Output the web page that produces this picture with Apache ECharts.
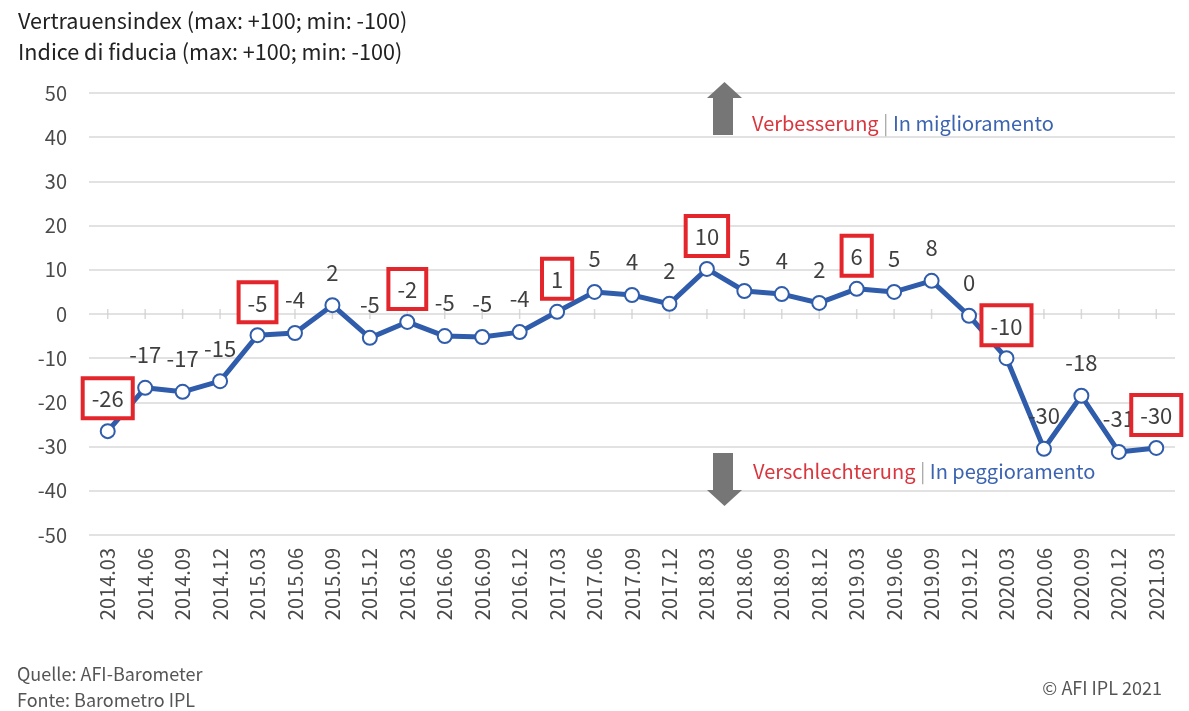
<!DOCTYPE html>
<html>
<head>
<meta charset="utf-8">
<script src="https://cdn.jsdelivr.net/npm/echarts@6/dist/echarts.min.js"></script>
<style>
html,body{margin:0;padding:0;background:#fff;}
#chart{width:1189px;height:711px;}
</style>
</head>
<body>
<div id="chart"></div>
<script>
const categories = ["2014.03","2014.06","2014.09","2014.12","2015.03","2015.06","2015.09","2015.12","2016.03","2016.06","2016.09","2016.12","2017.03","2017.06","2017.09","2017.12","2018.03","2018.06","2018.09","2018.12","2019.03","2019.06","2019.09","2019.12","2020.03","2020.06","2020.09","2020.12","2021.03"];
const indexValues = [-26.5,-16.7,-17.6,-15.2,-4.8,-4.3,2.0,-5.4,-1.8,-5.0,-5.2,-4.1,0.5,5.0,4.3,2.3,10.2,5.2,4.5,2.5,5.7,5.0,7.5,-0.4,-10.0,-30.5,-18.5,-31.2,-30.3];
const valueLabels = [-26,-17,-17,-15,-5,-4,2,-5,-2,-5,-5,-4,1,5,4,2,10,5,4,2,6,5,8,0,-10,-30,-18,-31,-30];
const boxedCategories = ["2014.03","2015.03","2016.03","2017.03","2018.03","2019.03","2020.03","2021.03"];
const yTicks = {min:-50, max:50, interval:10};

const FONT = '"Noto Sans CJK SC", "Noto Sans", sans-serif';
const blue = '#2f5cab';

const seriesData = indexValues.map((v,i)=>{
  const boxed = boxedCategories.indexOf(categories[i]) >= 0;
  return {
    value: v,
    label: boxed ? {
      show:true, position:'top', distance:7,
      formatter: String(valueLabels[i]),
      borderColor:'#e3262b', borderWidth:4, padding:[6,7,4,7],
      backgroundColor:'#fff'
    } : {
      show:true, position:'top', distance:12,
      formatter: String(valueLabels[i])
    }
  };
});

// zero-line tick marks at each category (axis crosses at 0)
const zeroTicks = categories.map(c => [c, 0]);

const chart = echarts.init(document.getElementById('chart'), null, {renderer:'canvas'});
chart.setOption({
  animation:false,
  backgroundColor:'#fff',
  textStyle:{fontFamily:FONT},
  grid:{left:89, right:14, top:93, bottom:176, containLabel:false},
  xAxis:{
    type:'category', data:categories, position:'bottom', boundaryGap:true,
    axisLine:{show:false, onZero:false}, axisTick:{show:false},
    axisLabel:{rotate:90, margin:13, fontSize:20, color:'#4a4a4a', fontFamily:FONT, interval:0}
  },
  yAxis:{
    type:'value', min:yTicks.min, max:yTicks.max, interval:yTicks.interval,
    axisLine:{show:false}, axisTick:{show:false},
    axisLabel:{margin:22, fontSize:20, color:'#4a4a4a', fontFamily:FONT},
    splitLine:{lineStyle:{color:'#d9d9d9', width:1.5}}
  },
  series:[
    {
      type:'scatter', data:zeroTicks, symbol:'rect', symbolSize:[1.5,10],
      itemStyle:{color:'#cfcfcf'}, silent:true, z:1
    },
    {
      type:'line', data:seriesData,
      symbol:'circle', symbolSize:14,
      lineStyle:{color:blue, width:5},
      itemStyle:{color:'#fff', borderColor:blue, borderWidth:2},
      label:{fontSize:22, color:'#3f3f3f', fontFamily:FONT, lineHeight:26},
      z:5
    }
  ],
  graphic:[
    {type:'text', left:18, top:10, style:{text:'Vertrauensindex (max: +100; min: -100)', font:'21.6px '+FONT, fill:'#222'}},
    {type:'text', left:18, top:41, style:{text:'Indice di fiducia (max: +100; min: -100)', font:'21.6px '+FONT, fill:'#222'}},
    {type:'text', left:17, top:665, style:{text:'Quelle: AFI-Barometer', font:'18px '+FONT, fill:'#555'}},
    {type:'text', left:17, top:691, style:{text:'Fonte: Barometro IPL', font:'18px '+FONT, fill:'#555'}},
    {type:'text', right:27, top:679, style:{text:'© AFI IPL 2021', font:'18px '+FONT, fill:'#555'}},
    {type:'polygon', shape:{points:[[713,135],[713,98],[707,98],[724.5,82],[742,98],[733,98],[733,135]]}, style:{fill:'#767676'}, z:10},
    {type:'polygon', shape:{points:[[713,453],[713,490],[707,490],[724.5,506],[742,490],[733,490],[733,453]]}, style:{fill:'#767676'}, z:10},
    {type:'text', left:752, top:113, z:10, style:{
      text:'{r|Verbesserung}{g| | }{b|In miglioramento}',
      rich:{r:{fill:'#d9363e', font:'20px '+FONT}, g:{fill:'#aaa', font:'20px '+FONT}, b:{fill:'#3b63b0', font:'20px '+FONT}},
      backgroundColor:'#fff'
    }},
    {type:'text', left:753, top:461, z:10, style:{
      text:'{r|Verschlechterung}{g| | }{b|In peggioramento}',
      rich:{r:{fill:'#d9363e', font:'20px '+FONT}, g:{fill:'#aaa', font:'20px '+FONT}, b:{fill:'#3b63b0', font:'20px '+FONT}},
      backgroundColor:'#fff'
    }}
  ]
});
</script>
</body>
</html>
